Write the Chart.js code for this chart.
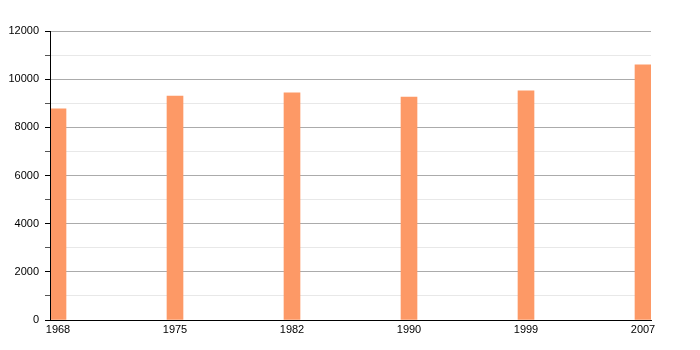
<!DOCTYPE html>
<html>
<head>
<meta charset="utf-8">
<script src="https://cdn.jsdelivr.net/npm/chart.js@4"></script>
<style>
  html, body { margin: 0; padding: 0; background: #fff; }
  #wrap { width: 700px; height: 350px; }
</style>
</head>
<body>
<div id="wrap"><canvas id="myChart" width="700" height="350"></canvas></div>
<script>
const years = ['1968', '1975', '1982', '1990', '1999', '2007'];
const population = [8770, 9300, 9430, 9260, 9520, 10600];
const yTicks = [0, 2000, 4000, 6000, 8000, 10000, 12000];

(function () {
    Chart.defaults.font.family = '"Liberation Sans", Arial, sans-serif';
    Chart.defaults.font.size = 11;
    Chart.defaults.color = '#000';

    // keep the y axis line on top of the first bar
    const axisOnTop = {
        id: 'axisOnTop',
        afterDatasetsDraw(chart) {
            const a = chart.chartArea;
            const c = chart.ctx;
            const x = Math.round(a.left - 0.5) + 0.5;
            c.save();
            c.strokeStyle = '#000';
            c.lineWidth = 1;
            c.beginPath();
            c.moveTo(x, a.top);
            c.lineTo(x, a.bottom);
            c.stroke();
            c.restore();
        }
    };

    const ctx = document.getElementById('myChart');

    new Chart(ctx, {
        type: 'bar',
        data: {
            datasets: [{
                data: population.map((v, i) => ({ x: i, y: v })),
                backgroundColor: 'rgb(253, 153, 102)',
                borderWidth: 0,
                barThickness: 16
            }]
        },
        options: {
            responsive: false,
            animation: false,
            layout: { padding: { top: 31, right: 49, bottom: 0, left: 0 } },
            plugins: { legend: { display: false }, tooltip: { enabled: false } },
            scales: {
                x: {
                    type: 'linear',
                    offset: false,
                    min: -8 / 117,
                    max: (years.length - 1) + 8 / 117,
                    afterBuildTicks: (s) => { s.ticks = years.map((_, i) => ({ value: i })); },
                    afterFit: (s) => { s.height = 30; },
                    grid: { display: false, drawTicks: false },
                    border: { display: true, color: '#000', width: 1 },
                    ticks: {
                        padding: 3,
                        maxRotation: 0,
                        autoSkip: false,
                        callback: (v) => years[v]
                    }
                },
                y: {
                    min: 0,
                    max: 12000,
                    afterBuildTicks: (s) => {
                        const t = [];
                        for (let v = 0; v <= 12000; v += 1000) t.push({ value: v });
                        s.ticks = t;
                    },
                    afterFit: (s) => { s.width = 50; },
                    border: { color: '#000', width: 1 },
                    grid: {
                        color: (c) => yTicks.includes(c.tick.value) ? '#ababab' : '#e8e8e8',
                        tickColor: (c) => yTicks.includes(c.tick.value) ? '#000' : '#555',
                        tickLength: 5
                    },
                    ticks: {
                        padding: 6,
                        callback: (v) => yTicks.includes(v) ? String(v) : ''
                    }
                }
            }
        },
        plugins: [axisOnTop]
    });
})();
</script>
</body>
</html>
